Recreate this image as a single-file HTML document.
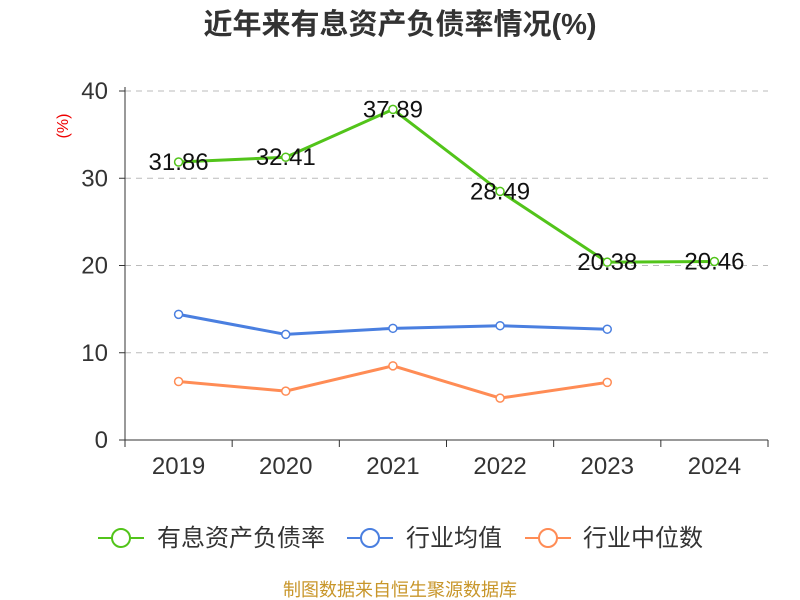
<!DOCTYPE html>
<html><head><meta charset="utf-8"><style>
body{margin:0;background:#fff;}
svg{display:block;font-family:"Liberation Sans","Noto Sans CJK SC",sans-serif;}
</style></head><body>
<svg id="chart" width="800" height="600">
<text x="400" y="34" text-anchor="middle" font-size="29" font-weight="bold" fill="#333">近年来有息资产负债率情况(%)</text>
<text x="68" y="126" text-anchor="middle" font-size="16" fill="#e00" transform="rotate(-90 68 126)">(%)</text>
<g id="grid"></g><g id="axes"></g><g id="series"></g>
<g>
<g><line x1="98" y1="538" x2="144" y2="538" stroke="#52c41a" stroke-width="2"/><circle cx="121" cy="538" r="9" fill="#fff" stroke="#52c41a" stroke-width="2"/><text x="157" y="546" font-size="24" fill="#333">有息资产负债率</text></g>
<g><line x1="347" y1="538" x2="393" y2="538" stroke="#4a7fe0" stroke-width="2"/><circle cx="370" cy="538" r="9" fill="#fff" stroke="#4a7fe0" stroke-width="2"/><text x="406" y="546" font-size="24" fill="#333">行业均值</text></g>
<g><line x1="525" y1="538" x2="571" y2="538" stroke="#ff8c55" stroke-width="2"/><circle cx="548" cy="538" r="9" fill="#fff" stroke="#ff8c55" stroke-width="2"/><text x="583" y="546" font-size="24" fill="#333">行业中位数</text></g>
</g>
<text x="400" y="596" text-anchor="middle" font-size="18" fill="#c8962a">制图数据来自恒生聚源数据库</text>
</svg>
<script>
const categories=["2019","2020","2021","2022","2023","2024"];
const debtRatio=[31.86,32.41,37.89,28.49,20.38,20.46];
const industryAvg=[14.4,12.1,12.8,13.1,12.7];
const industryMedian=[6.7,5.6,8.5,4.8,6.6];
const yTicks=[0,10,20,30,40];
const NS="http://www.w3.org/2000/svg";
const x0=125,x1=768,yBase=440,yTop=91,yMax=40;
const bw=(x1-x0)/categories.length;
const xs=i=>x0+bw*(i+0.5);
const ys=v=>yBase-(v/yMax)*(yBase-yTop);
function mk(tag,attrs,parent){const e=document.createElementNS(NS,tag);for(const k in attrs)e.setAttribute(k,attrs[k]);parent.appendChild(e);return e;}
const grid=document.getElementById('grid'),axes=document.getElementById('axes'),ser=document.getElementById('series');
yTicks.forEach(t=>{const y=ys(t);
 if(t>0){const l=mk('line',{x1:x0,x2:x1,y1:y,y2:y,stroke:'#bbb','stroke-dasharray':'6,5'},grid);
 
 }
 const tk=mk('line',{x1:x0-6,x2:x0,y1:y,y2:y,stroke:'#333'},axes);
 
 
 const tx=mk('text',{x:x0-17,y:y+8,'text-anchor':'end','font-size':'24',fill:'#333'},axes);tx.textContent=t;
 
 
});
const ya=mk('line',{x1:x0,x2:x0,y1:yTop-4,y2:yBase,stroke:'#333'},axes);


const xa=mk('line',{x1:x0,x2:x1,y1:yBase,y2:yBase,stroke:'#333'},axes);


for(let i=0;i<=categories.length;i++){const tk=mk('line',{x1:x0+bw*i,x2:x0+bw*i,y1:yBase,y2:yBase+7,stroke:'#333'},axes);
 
 }
categories.forEach((c,i)=>{const t=mk('text',{x:xs(i),y:yBase+34,'text-anchor':'middle','font-size':'24',fill:'#333'},axes);t.textContent=c;
 
 });
function series(vals,color,name,labels){
 const pl=mk('polyline',{points:vals.map((v,i)=>xs(i)+','+ys(v)).join(' '),fill:'none',stroke:color,'stroke-width':3},ser);
 
 
 vals.forEach((v,i)=>{const c=mk('circle',{cx:xs(i),cy:ys(v),r:4,fill:'#fff',stroke:color,'stroke-width':1.5},ser);
  
  
  if(labels){const t=mk('text',{x:xs(i),y:ys(v)+8,'text-anchor':'middle','font-size':'24',fill:'#111'},ser);t.textContent=v.toFixed(2);
   
   }
 });
}
series(industryMedian,'#ff8c55','industry-median',false);
series(industryAvg,'#4a7fe0','industry-average',false);
series(debtRatio,'#52c41a','debt-ratio',true);
</script>
</body></html>
